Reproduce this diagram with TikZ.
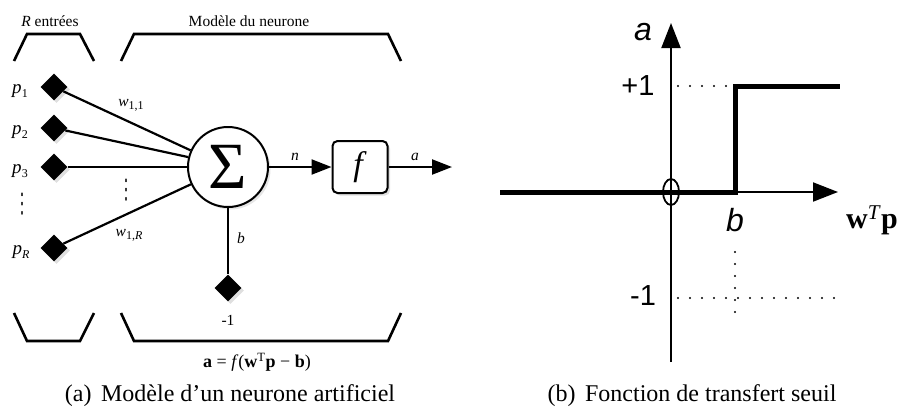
\documentclass[tikz,border=0pt]{standalone}
\usepackage{fontspec}
\usepackage{graphicx}
\setmainfont{Liberation Serif}
\newfontfamily\hsans{Liberation Sans}
\newfontfamily\dvs{DejaVu Sans}
\usetikzlibrary{shapes.geometric,arrows.meta,shadows}
\newcommand{\sbs}[1]{\raisebox{-0.45ex}{\fontsize{12}{12}\selectfont #1}}
\begin{document}
\begin{tikzpicture}[x=1pt,y=-1pt,
  inp/.style={diamond,fill=black,minimum size=27pt,inner sep=0pt,
    drop shadow={opacity=0.25,shadow xshift=2.5pt,shadow yshift=-2.5pt}},
  conn/.style={line width=2.2pt},
  brk/.style={line width=2.6pt,line join=miter},
  lbl/.style={font=\fontsize{19}{19}\selectfont,inner sep=0pt},
  sml/.style={font=\fontsize{15.5}{15.5}\selectfont,inner sep=0pt},
  vdt/.style={font=\dvs\fontsize{20}{20}\selectfont,inner sep=0pt},
  captext/.style={font=\fontsize{24}{24}\selectfont,inner sep=0pt},
  hs/.style={font=\hsans\fontsize{29}{29}\selectfont,inner sep=0pt},
  hsi/.style={font=\hsans\itshape\fontsize{32}{32}\selectfont,inner sep=0pt},
  dotl/.style={line width=2.3pt,line cap=round,dash pattern=on 0pt off 12pt},
  axis/.style={line width=2pt},
  tip/.style={-{Triangle[length=20pt,width=15pt]}},
  bigtip/.style={-{Triangle[length=25pt,width=19pt]}}
]
\useasboundingbox (0,0) rectangle (901,416);

% ---------- (a) neuron model ----------
\node[sml] (rin) at (50,21) {\textit{R} entrées};
\node[sml] (mod) at (249,21) {Modèle du neurone};
\draw[brk] (14,61) -- (27,34) -- (80,34) -- (94,61);
\draw[brk] (121,61) -- (134,34) -- (388,34) -- (401,61);
\draw[brk] (14,313) -- (27,341) -- (80,341) -- (94,313);
\draw[brk] (121,313) -- (134,341) -- (388,341) -- (401,313);

\node[inp] (p1) at (54,87) {};
\node[inp] (p2) at (54,128) {};
\node[inp] (p3) at (54,167) {};
\node[inp] (pR) at (54,248) {};
\node[inp] (bias) at (228,288) {};

\node[lbl] (lp1) at (20,91) {\textit{p}\sbs{1}};
\node[lbl] (lp2) at (20,132) {\textit{p}\sbs{2}};
\node[lbl] (lp3) at (20,171) {\textit{p}\sbs{3}};
\node[lbl] (lpR) at (21,252) {\textit{p}\sbs{\textit{R}}};
\node[vdt] (vd1) at (22,204) {\scalebox{0.75}[1.35]{⋮}};
\node[vdt] (vd2) at (126,190) {\scalebox{0.75}[1.35]{⋮}};

\node[circle,draw,line width=2pt,fill=white,minimum size=80pt,inner sep=0pt,
  drop shadow={opacity=0.2,shadow xshift=2.5pt,shadow yshift=-2.5pt}] (sum) at (228,167)
  {\fontsize{66}{66}\selectfont Σ};
\node[draw,line width=2pt,rounded corners=5pt,fill=white,minimum width=55pt,minimum height=52pt,
  inner sep=0pt,drop shadow={opacity=0.25,shadow xshift=2.5pt,shadow yshift=-2.5pt}] (fbox) at (360,167)
  {\fontsize{34}{34}\selectfont\textit{f}};

\draw[conn] (p1) -- (sum.156);
\draw[conn] (p2) -- (sum.166);
\draw[conn] (p3) -- (sum.180);
\draw[conn] (pR) -- (sum.205);
\draw[conn] (sum.south) -- (bias);

\node[sml] (w11) at (131,105) {\textit{w}\sbs{1,1}};
\node[sml] (w1R) at (129,235) {\textit{w}\sbs{1,\textit{R}}};
\node[sml] (lb) at (241,238) {\textit{b}};
\node[sml] (lm1) at (228,320) {-1};

\draw[conn,tip] (sum) -- (fbox);
\node[sml] (ln) at (295,157) {\textit{n}};
\coordinate (aend) at (452,167);
\draw[conn,tip] (fbox) -- (aend);
\node[sml] (la) at (415,157) {\textit{a}};

\node[font=\fontsize{18}{18}\selectfont,inner sep=0pt] (form) at (257,362)
  {\textbf{a} = \textit{f}(\textbf{w}\textsuperscript{T}\textbf{p} \char"2212{} \textbf{b})};

\node[captext] (capa) at (230,396) {(a)\hspace{0.4em}Modèle d’un neurone artificiel};

% ---------- (b) threshold transfer function ----------
\coordinate (O) at (671,192);
\coordinate (ytop) at (671,23);
\coordinate (ybot) at (671,362);
\coordinate (xl) at (500,192);
\coordinate (xr) at (838,192);
\draw[axis,bigtip] (ybot) -- (ytop);
\draw[axis,bigtip] (xl) -- (xr);
\draw[line width=5pt,line join=miter] (xl) -- (735,192) -- (735,86) -- (840,86);
\draw[line width=1.8pt] (O) ellipse [x radius=8, y radius=13];

\draw[dotl] (678,86) -- (730,86);
\draw[dotl] (678,298) -- (843,298);
\draw[dotl] (735,252) -- (735,312);

\node[hsi] (ya) at (643,32) {a};
\node[hs] (p1l) at (638,86) {+1};
\node[hs] (m1l) at (643,296) {-1};
\node[hsi] (bl) at (735,220) {b};
\node[font=\fontsize{30}{30}\selectfont,inner sep=0pt] (wtp) at (872,220)
  {\textbf{w}\textsuperscript{\textit{T}}\textbf{p}};

\node[captext] (capb) at (692,396) {(b)\hspace{0.4em}Fonction de transfert seuil};
\end{tikzpicture}
\end{document}
